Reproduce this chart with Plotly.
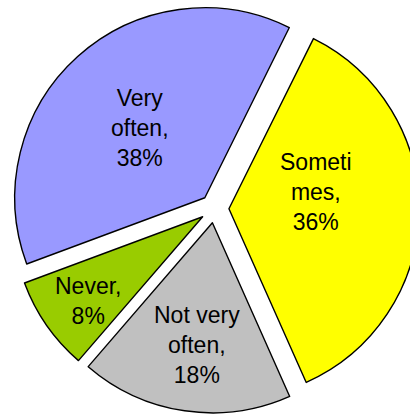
import plotly.graph_objects as go

# Survey answers, in clockwise order starting just right of 12 o'clock
categories = ["Sometimes", "Not very often", "Never", "Very often"]
shares = [36, 18, 8, 38]
# How each category name wraps inside its slice
wrapped_names = ["Someti<br>mes", "Not very<br>often", "Never", "Very<br>often"]

slice_colors = ["#FFFF00", "#C0C0C0", "#99CC00", "#9999FF"]

# Label centres in paper coordinates
label_pos = [(0.736, 0.540), (0.459, 0.166), (0.205, 0.274), (0.326, 0.697)]

fig = go.Figure(
    go.Pie(
        labels=categories,
        values=shares,
        sort=False,
        direction="clockwise",
        rotation=26.4,
        pull=[0.076] * len(shares),
        marker=dict(colors=slice_colors, line=dict(color="black", width=1.4)),
        textinfo="none",
        hoverinfo="label+percent",
        showlegend=False,
    )
)

for name, value, (px, py) in zip(wrapped_names, shares, label_pos):
    fig.add_annotation(
        x=px, y=py, xref="paper", yref="paper",
        text=f"{name},<br>{value}%",
        showarrow=False,
        xanchor="center", yanchor="middle",
        font=dict(family="Liberation Sans, Arial, sans-serif", size=23, color="black"),
    )

fig.update_layout(
    width=429,
    height=414,
    autosize=False,
    margin=dict(l=0, r=0, t=4, b=1),
    paper_bgcolor="white",
    plot_bgcolor="white",
)

fig.write_html("out.html")
